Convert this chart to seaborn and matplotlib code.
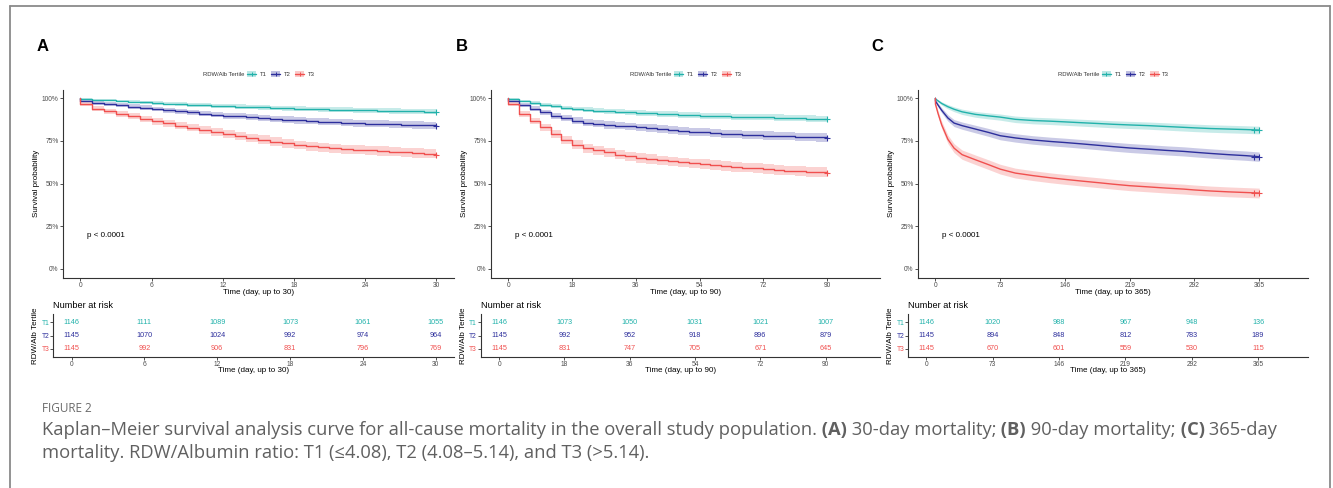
import numpy as np
import pandas as pd
import matplotlib
matplotlib.use('Agg')
import matplotlib.pyplot as plt
import seaborn as sns
from matplotlib.patches import Patch
from matplotlib.lines import Line2D

sns.set_theme(style='white')
plt.rcParams['font.family'] = ['Liberation Sans', 'DejaVu Sans']

groups = ['T1', 'T2', 'T3']
colors = {'T1': '#22B2AB', 'T2': '#2D2F9C', 'T3': '#F0504F'}

# ---- panel A: 30-day, daily steps ----
days_a = list(range(31))
surv_a_t1 = [0.996, 0.992, 0.988, 0.985, 0.981, 0.977, 0.972, 0.969, 0.966, 0.963, 0.960,
             0.957, 0.954, 0.952, 0.949, 0.947, 0.944, 0.942, 0.940, 0.938, 0.936,
             0.934, 0.932, 0.931, 0.929, 0.928, 0.926, 0.925, 0.924, 0.922, 0.921]
surv_a_t2 = [0.984, 0.973, 0.966, 0.959, 0.952, 0.945, 0.938, 0.931, 0.924, 0.918, 0.911,
             0.905, 0.899, 0.894, 0.889, 0.884, 0.879, 0.875, 0.871, 0.867, 0.864,
             0.861, 0.858, 0.855, 0.852, 0.850, 0.848, 0.846, 0.844, 0.842, 0.840]
surv_a_t3 = [0.966, 0.940, 0.925, 0.910, 0.895, 0.880, 0.866, 0.853, 0.840, 0.828, 0.816,
             0.803, 0.791, 0.780, 0.769, 0.758, 0.747, 0.736, 0.726, 0.720, 0.714,
             0.708, 0.702, 0.698, 0.695, 0.691, 0.687, 0.683, 0.679, 0.675, 0.668]

# ---- panel B: 90-day ----
days_b = list(range(0, 91, 3))
surv_b_t1 = [0.996, 0.985, 0.972, 0.963, 0.954, 0.944, 0.938, 0.932, 0.927, 0.924, 0.921,
             0.918, 0.915, 0.912, 0.909, 0.906, 0.903, 0.901, 0.899, 0.897, 0.895,
             0.893, 0.891, 0.890, 0.889, 0.887, 0.885, 0.883, 0.881, 0.879, 0.877]
surv_b_t2 = [0.984, 0.960, 0.939, 0.918, 0.899, 0.883, 0.869, 0.858, 0.850, 0.844, 0.840,
             0.835, 0.830, 0.825, 0.819, 0.814, 0.809, 0.805, 0.801, 0.797, 0.793,
             0.790, 0.787, 0.784, 0.782, 0.779, 0.777, 0.775, 0.773, 0.771, 0.768]
surv_b_t3 = [0.966, 0.910, 0.868, 0.830, 0.793, 0.757, 0.728, 0.708, 0.695, 0.683, 0.670,
             0.660, 0.651, 0.644, 0.637, 0.630, 0.624, 0.619, 0.614, 0.609, 0.604,
             0.599, 0.594, 0.590, 0.586, 0.581, 0.577, 0.573, 0.570, 0.566, 0.562]

# ---- panel C: 365-day ----
days_c = [0, 3, 7, 14, 21, 30, 45, 60, 73, 90, 110, 130, 146, 165, 185, 200, 219,
          240, 260, 280, 292, 310, 330, 350, 365]
surv_c_t1 = [0.996, 0.985, 0.970, 0.951, 0.936, 0.921, 0.906, 0.897, 0.890, 0.877, 0.870,
             0.866, 0.862, 0.857, 0.852, 0.848, 0.844, 0.840, 0.835, 0.830, 0.827,
             0.823, 0.820, 0.817, 0.814]
surv_c_t2 = [0.984, 0.960, 0.930, 0.885, 0.855, 0.840, 0.820, 0.800, 0.781, 0.768, 0.756,
             0.747, 0.741, 0.733, 0.724, 0.717, 0.709, 0.702, 0.695, 0.689, 0.684,
             0.677, 0.670, 0.664, 0.658]
surv_c_t3 = [0.966, 0.910, 0.845, 0.760, 0.708, 0.670, 0.640, 0.611, 0.585, 0.562, 0.547,
             0.534, 0.525, 0.515, 0.505, 0.497, 0.488, 0.481, 0.474, 0.468, 0.463,
             0.457, 0.452, 0.448, 0.445]

# ---- numbers at risk ----
risk_times_a = [0, 6, 12, 18, 24, 30]
risk_a_t1 = [1146, 1111, 1089, 1073, 1061, 1055]
risk_a_t2 = [1145, 1070, 1024, 992, 974, 964]
risk_a_t3 = [1145, 992, 906, 831, 796, 769]

risk_times_b = [0, 18, 36, 54, 72, 90]
risk_b_t1 = [1146, 1073, 1050, 1031, 1021, 1007]
risk_b_t2 = [1145, 992, 952, 918, 896, 879]
risk_b_t3 = [1145, 831, 747, 705, 671, 645]

risk_times_c = [0, 73, 146, 219, 292, 365]
risk_c_t1 = [1146, 1020, 988, 967, 948, 136]
risk_c_t2 = [1145, 894, 848, 812, 783, 189]
risk_c_t3 = [1145, 670, 601, 559, 530, 115]

panels = [
    dict(letter='A', days=days_a, surv=[surv_a_t1, surv_a_t2, surv_a_t3], steps=True,
         xmax=30, rt=risk_times_a, risk=[risk_a_t1, risk_a_t2, risk_a_t3],
         xlabel='Time (day, up to 30)', px=(62.7, 454), tpx=53.3, letter_x=36.7),
    dict(letter='B', days=days_b, surv=[surv_b_t1, surv_b_t2, surv_b_t3], steps=True,
         xmax=100, rt=risk_times_b, risk=[risk_b_t1, risk_b_t2, risk_b_t3],
         xlabel='Time (day, up to 90)', px=(490.7, 880), tpx=481, letter_x=456),
    dict(letter='C', days=days_c, surv=[surv_c_t1, surv_c_t2, surv_c_t3], steps=False,
         xmax=400, rt=risk_times_c, risk=[risk_c_t1, risk_c_t2, risk_c_t3],
         xlabel='Time (day, up to 365)', px=(917.7, 1308), tpx=908.3, letter_x=871.7),
]

W, H = 1333, 488
fig = plt.figure(figsize=(W / 100, H / 100), dpi=100)


def px_axes(x0, x1, ytop, ybot):
    return fig.add_axes([x0 / W, 1 - ybot / H, (x1 - x0) / W, (ybot - ytop) / H])


axis_col = '#333333'
tick_txt = '#4d4d4d'

for p in panels:
    x0, x1 = p['px']
    ax = px_axes(x0, x1, 89.8, 277.5)
    exp = 0.05 * p['xmax']
    rows = []
    for g, s in zip(groups, p['surv']):
        t = [0] + list(p['days'])
        v = [1.0] + list(s)
        rows.append(pd.DataFrame({'time': t, 'surv': v, 'group': g}))
    df = pd.concat(rows, ignore_index=True)
    n0 = {g: r[0] for g, r in zip(groups, p['risk'])}
    df['se'] = np.sqrt(df['surv'] * (1 - df['surv']) / df['group'].map(n0))
    df['lo'] = df['surv'] - 1.96 * df['se']
    df['hi'] = (df['surv'] + 1.96 * df['se']).clip(upper=1.0)

    for g in groups:
        d = df[df['group'] == g]
        ax.fill_between(d['time'], d['lo'], d['hi'], color=colors[g], alpha=0.25, lw=0,
                        step='post' if p['steps'] else None)
    sns.lineplot(data=df, x='time', y='surv', hue='group', palette=colors, ax=ax,
                 estimator=None, sort=False, lw=1.0, legend=False,
                 drawstyle='steps-post' if p['steps'] else 'default')
    for g in groups:
        d = df[df['group'] == g]
        ax.plot(d['time'].iloc[-1], d['surv'].iloc[-1], marker='+', ms=4, mew=0.8,
                color=colors[g], ls='none')
        if not p['steps']:
            ax.plot(d['time'].iloc[-1] - 6, d['surv'].iloc[-1], marker='+', ms=4, mew=0.8,
                    color=colors[g], ls='none')

    ax.set_xlim(-exp, p['xmax'] + exp)
    ax.set_ylim(-0.05, 1.05)
    ax.set_xticks(p['rt'])
    ax.set_yticks([0, 0.25, 0.5, 0.75, 1.0])
    ax.set_yticklabels(['0%', '25%', '50%', '75%', '100%'])
    for sp in ['top', 'right']:
        ax.spines[sp].set_visible(False)
    for sp in ['left', 'bottom']:
        ax.spines[sp].set_color(axis_col)
        ax.spines[sp].set_linewidth(0.8)
    ax.tick_params(bottom=True, left=True, length=2, width=0.6, color=axis_col,
                   labelsize=4.8, labelcolor=tick_txt, pad=1)
    ax.set_xlabel(p['xlabel'], fontsize=5.8, color='black')
    ax.set_ylabel('Survival probability', fontsize=5.8, color='black')
    ax.xaxis.label.set_va('center')
    ax.yaxis.label.set_va('center')
    ax.xaxis.set_label_coords(0.5, -14.5 / 187.7)
    ax.yaxis.set_label_coords(-26.5 / (x1 - x0), 0.5)
    ax.text(0.062, 0.226, 'p < 0.0001', transform=ax.transAxes, fontsize=5.75,
            ha='left', va='center', color='black')

    # legend
    handles = [(Patch(facecolor=colors[g], alpha=0.3, edgecolor='none'),
                Line2D([], [], color=colors[g], lw=1.0, marker='+', ms=3, mew=0.7))
               for g in groups]
    leg = ax.legend(handles, groups, ncol=3, loc='center left',
                    bbox_to_anchor=(0.472, 1.084), frameon=False, fontsize=4.2,
                    handlelength=1.55, handleheight=1.2, handletextpad=0.64,
                    columnspacing=0.7, borderpad=0, borderaxespad=0)
    for txt in leg.get_texts():
        txt.set_color('#333333')
    ax.text(0.465, 1.084, 'RDW/Alb Tertile', transform=ax.transAxes, fontsize=4.2,
            ha='right', va='center', color='#333333')

    fig.text(p['letter_x'] / W, 1 - 46.7 / H, p['letter'], fontsize=12,
             fontweight='bold', ha='left', va='center', color='black')

    # risk table
    tx0 = p['tpx']
    at = px_axes(tx0, x1, 314.4, 356.7)
    at.set_xlim(-exp, p['xmax'] + exp)
    at.set_ylim(0.4, 3.6)
    for i, (g, r) in enumerate(zip(groups, p['risk'])):
        yy = 3 - i
        for t, n in zip(p['rt'], r):
            at.text(t, yy, str(n), ha='center', va='center', fontsize=5.2,
                    color=colors[g])
    at.set_xticks(p['rt'])
    at.set_yticks([3, 2, 1])
    at.set_yticklabels(groups)
    for lab, g in zip(at.get_yticklabels(), groups):
        lab.set_color(colors[g])
    for sp in ['top', 'right']:
        at.spines[sp].set_visible(False)
    for sp in ['left', 'bottom']:
        at.spines[sp].set_color(axis_col)
        at.spines[sp].set_linewidth(0.8)
    at.tick_params(bottom=True, left=True, length=2, width=0.6, color=axis_col,
                   labelsize=4.8, pad=1)
    at.tick_params(axis='x', labelcolor=tick_txt)
    at.set_xlabel(p['xlabel'], fontsize=5.8, color='black')
    at.set_ylabel('RDW/Alb Tertile', fontsize=5.8, color='black')
    at.xaxis.label.set_va('center')
    at.yaxis.label.set_va('center')
    at.xaxis.set_label_coords(0.5, -13.3 / 42.3)
    at.yaxis.set_label_coords(-17.5 / (x1 - tx0), 0.5)
    at.text(0, 1 + (314.4 - 306) / 42.3, 'Number at risk', transform=at.transAxes,
            fontsize=6.6, ha='left', va='center', color='black')

# frame around the figure
frame_col = '#8a8a8a'
fig.add_artist(Line2D([10 / W, 10 / W], [0, 1 - 6 / H], transform=fig.transFigure,
                      color=frame_col, lw=1.3))
fig.add_artist(Line2D([10 / W, 1330 / W], [1 - 6 / H, 1 - 6 / H], transform=fig.transFigure,
                      color=frame_col, lw=1.3))
fig.add_artist(Line2D([1330 / W, 1330 / W], [0, 1 - 6 / H], transform=fig.transFigure,
                      color=frame_col, lw=1.3))

# caption
cap = fig.add_axes([0, 0, 1, 1])
cap.axis('off')
cap_font = ['Open Sans', 'DejaVu Sans']
cap_col = '#606060'
cap_size = 12.0


def write_parts(parts, x, y):
    first = cap.text(x / W, 1 - y / H, parts[0][0], transform=cap.transAxes,
                     ha='left', va='center', fontsize=cap_size, fontweight=parts[0][1],
                     family=cap_font, color=cap_col)
    out = [first]
    prev = first
    for s, w in parts[1:]:
        t = cap.annotate(s, xy=(1, 0), xycoords=prev, ha='left', va='bottom',
                         fontsize=cap_size, fontweight=w, family=cap_font, color=cap_col)
        out.append(t)
        prev = t
    return out


fig_lab = cap.text(42 / W, 1 - 408 / H, 'FIGURE 2', transform=cap.transAxes, ha='left',
                   va='center', fontsize=8.5, family=cap_font, color='#6a6a6a')
line1 = write_parts([
    ('Kaplan\u2013Meier survival analysis curve for all-cause mortality in the overall '
     'study population.', 'normal'),
    (' (A)', 'bold'), (' 30-day mortality;', 'normal'),
    (' (B)', 'bold'), (' 90-day mortality;', 'normal'),
    (' (C)', 'bold'), (' 365-day', 'normal')], 42, 430)
line2 = write_parts([
    ('mortality. RDW/Albumin ratio: T1 (\u22644.08), T2 (4.08\u20135.14), and T3 (>5.14).',
     'normal')], 42, 453)

fig.canvas.draw()
r = fig.canvas.get_renderer()
x_start = line1[0].get_window_extent(r).x0
x_end = line1[-1].get_window_extent(r).x1
scale = (1271 - 42) / (x_end - x_start)
for t in line1 + line2:
    t.set_fontsize(cap_size * scale)

fig.savefig('out.png', dpi=100)
